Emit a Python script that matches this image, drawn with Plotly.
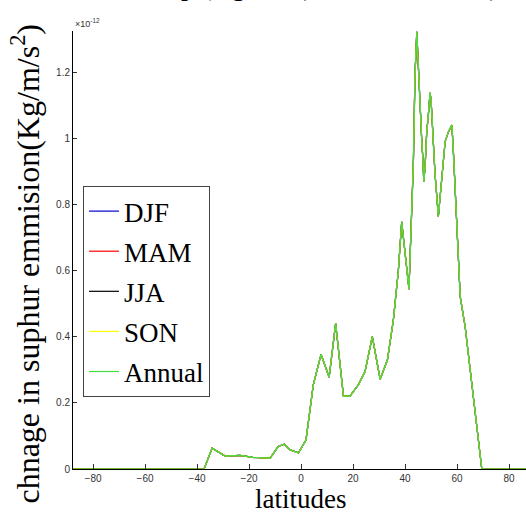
import plotly.graph_objects as go

# latitudes (degrees) and emission change (units of 1e-12 Kg/m/s^2)
lat = [-87.9, -37.3, -34.2, -29.2, -23.5, -18.5, -11.9, -8.8, -6.4, -4.2, -1.0,
       1.9, 4.7, 7.7, 10.8, 13.3, 16.3, 18.8, 22.0, 24.6, 27.4, 30.4, 33.2,
       35.5, 37.4, 38.7, 41.5, 42.2, 42.8, 43.2, 43.6, 43.8, 44.5, 44.7, 44.9,
       45.3, 45.6, 46.0, 46.4, 46.8, 47.2, 47.7, 48.3, 49.0, 49.6, 50.0, 50.7,
       51.5, 52.8, 54.1, 55.4, 56.7, 58.0, 58.6, 59.2, 59.9, 60.6, 61.2, 63.1,
       69.5, 87.9]
annual = [0.0, 0.0, 0.063, 0.039, 0.041, 0.035, 0.033, 0.068, 0.075, 0.058, 0.049,
          0.088, 0.255, 0.347, 0.278, 0.441, 0.221, 0.221, 0.255, 0.295, 0.401, 0.272, 0.330,
          0.452, 0.600, 0.749, 0.545, 0.700, 0.845, 0.931, 1.103, 1.189, 1.325, 1.290, 1.245,
          1.189, 1.098, 1.048, 0.997, 0.946, 0.871, 0.916, 1.017, 1.078, 1.140, 1.118, 0.997,
          0.896, 0.765, 0.886, 0.992, 1.022, 1.042, 0.957, 0.845, 0.765, 0.613, 0.522, 0.431,
          0.0, 0.0]
# seasonal curves coincide with the annual curve in the picture
djf = annual
mam = annual
jja = annual
son = annual

series_names = ["DJF", "MAM", "JJA", "SON", "Annual"]
series_values = [djf, mam, jja, son, annual]
series_colors = ["#0000cc", "#ff0000", "#000000", "#ffff00", "#44dd44"]

x_ticks = [-80, -60, -40, -20, 0, 20, 40, 60, 80]
y_ticks = [0, 0.2, 0.4, 0.6, 0.8, 1, 1.2]

fig = go.Figure()
for name, vals, col in zip(series_names, series_values, series_colors):
    fig.add_trace(go.Scatter(x=lat, y=vals, mode="lines", name=name, legendgroup=name,
                             line=dict(color=col, width=1.2)))

serif = "Liberation Serif"
sans = "Liberation Sans"

fig.update_layout(
    width=526, height=514,
    margin=dict(l=73, r=0, t=31, b=45),
    paper_bgcolor="white", plot_bgcolor="white",
    showlegend=True,
    legend=dict(x=0.022, y=0.646, xanchor="left", yanchor="top",
                bgcolor="white", bordercolor="#444", borderwidth=1,
                font=dict(family=serif, size=27, color="black"),
                itemwidth=30, tracegroupgap=2),
    xaxis=dict(range=[-87.7, 86.5], tickvals=x_ticks, ticks="inside", ticklen=5,
               tickcolor="#333", showline=True, linecolor="black", linewidth=1,
               showgrid=False, zeroline=False,
               tickfont=dict(family=sans, size=10, color="#333")),
    yaxis=dict(range=[0, 1.327], tickvals=y_ticks, ticks="inside", ticklen=4,
               tickcolor="#333", showline=True, linecolor="black", linewidth=1,
               showgrid=False, zeroline=False,
               tickfont=dict(family=sans, size=10, color="#333")),
)

# y-axis label
fig.add_annotation(text="chnage in suphur emmision(Kg/m/s<sup>2</sup>)",
                   xref="paper", yref="paper", x=-0.105, y=0.47,
                   xanchor="center", yanchor="middle", textangle=-90, showarrow=False,
                   font=dict(family=serif, size=32, color="black"))
# x-axis label
fig.add_annotation(text="latitudes", xref="paper", yref="paper",
                   x=0.502, y=-0.0685, xanchor="center", yanchor="middle", showarrow=False,
                   font=dict(family=serif, size=27, color="black"))
# exponent label
fig.add_annotation(text="\u00d710<sup>-12</sup>", xref="paper", yref="paper",
                   x=0.0, y=1.0, xanchor="left", yanchor="bottom", showarrow=False,
                   font=dict(family=sans, size=9, color="#333"))
# title (mostly above the visible area)
fig.add_annotation(text="Seasonal and annual dep (Kg/m/s<sup>2</sup>) for all latitudes)",
                   xref="paper", yref="paper", x=0.945, y=1.108, xanchor="right",
                   yanchor="middle", showarrow=False,
                   font=dict(family=serif, size=28, color="black"))

fig.write_html("out.html", config={"displayModeBar": False},
               post_script="document.body.style.margin='0px';")
